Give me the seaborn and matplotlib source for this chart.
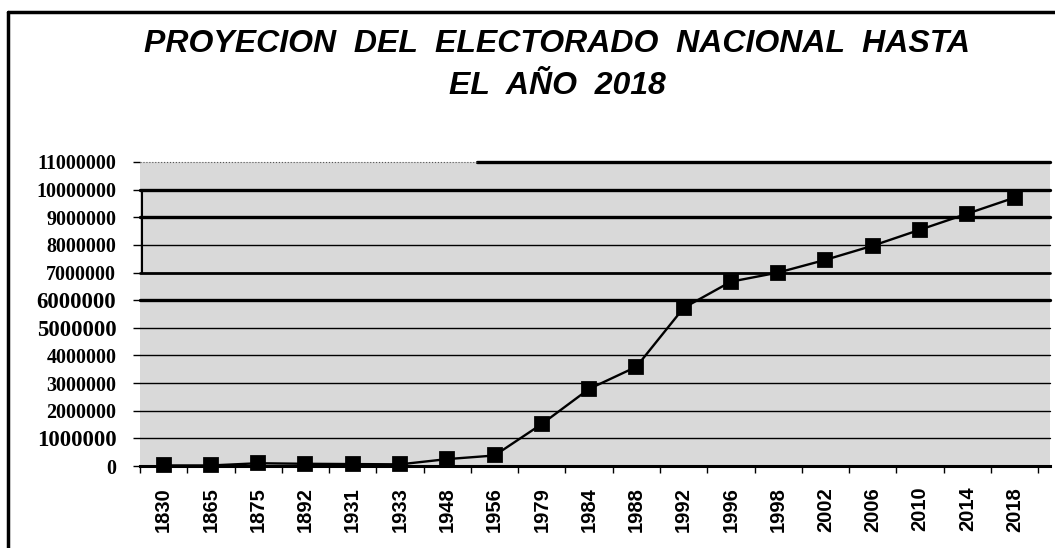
import numpy as np
import pandas as pd
import matplotlib
matplotlib.use("Agg")
import matplotlib.pyplot as plt
from matplotlib.lines import Line2D
import seaborn as sns

sns.set_theme(style="white", rc={"text.color": "black", "xtick.color": "black",
                                 "ytick.color": "black", "axes.labelcolor": "black"})

# valores
years = ["1830", "1865", "1875", "1892", "1931", "1933", "1948", "1956", "1979", "1984",
         "1988", "1992", "1996", "1998", "2002", "2006", "2010", "2014", "2018"]
electores = [20000, 20000, 100000, 80000, 70000, 60000, 250000, 380000, 1520000, 2790000,
             3590000, 5720000, 6670000, 7000000, 7460000, 7970000, 8550000, 9130000, 9710000]
ytick_vals = [0, 1000000, 2000000, 3000000, 4000000, 5000000, 6000000, 7000000,
              8000000, 9000000, 10000000, 11000000]
big_labels = [1000000, 5000000, 6000000]
title_txt = "PROYECION  DEL  ELECTORADO  NACIONAL  HASTA\nEL  AÑO  2018"

df = pd.DataFrame({"anio": years, "electores": electores})

fig = plt.figure(figsize=(10.55, 5.48), dpi=100)
fig.patch.set_facecolor("white")
ax = fig.add_axes([140 / 1055, 1 - 466 / 548, 910 / 1055, 304 / 548])
ax.set_facecolor("#d9d9d9")

# lineas horizontales (grid)
for v in ytick_vals[1:-1]:
    lw = 2.4 if v in (6000000, 9000000, 10000000) else (2.0 if v == 7000000 else 1.0)
    ax.axhline(v, color="black", lw=lw, zorder=1)
ax.axhline(11000000, xmin=0.37, xmax=1, color="black", lw=2.4, zorder=1)
ax.axhline(11000000, xmin=0, xmax=0.37, color="#555555", lw=0.8, ls=":", zorder=1)
ax.axvline(-0.45, ymin=7 / 11, ymax=10 / 11, color="black", lw=1.5, zorder=1)

sns.pointplot(data=df, x="anio", y="electores", order=years, color="black",
              markers="s", markersize=10.5, linewidth=1.7, ax=ax, zorder=3)
for c in ax.collections + ax.lines:
    c.set_clip_on(False)

ax.set_ylim(0, 11000000)
ax.set_xlim(-0.5, 18.75)
ax.set_xlabel("")
ax.set_ylabel("")

# eje y: marcas y etiquetas
ax.set_yticks(ytick_vals)
ax.set_yticklabels([])
ax.tick_params(axis="y", length=5, width=1, color="black", left=True)
for v in ytick_vals:
    ax.text(-0.026, v, str(v), transform=ax.get_yaxis_transform(), ha="right",
            va="center_baseline", fontfamily="Liberation Serif", fontweight="bold",
            fontsize=16.5 if v in big_labels else 14.4, color="black")

# eje x
ax.set_xticks(np.arange(len(years) + 1) - 0.5)
ax.set_xticklabels([])
ax.set_xticks(np.arange(len(years)), minor=True)
ax.set_xticklabels(years, minor=True, rotation=90, fontfamily="Liberation Sans",
                   fontweight="bold", fontsize=14.5, color="black")
ax.tick_params(axis="x", which="major", length=5, width=1, color="black", bottom=True)
ax.tick_params(axis="x", which="minor", length=0, pad=15)

for s in ["top", "right", "left"]:
    ax.spines[s].set_visible(False)
ax.spines["bottom"].set_color("black")
ax.spines["bottom"].set_linewidth(2.2)

# titulo
fig.text(557 / 1055, 1 - 65 / 548, title_txt, ha="center", va="center",
         fontsize=23, fontweight="bold", fontstyle="italic", color="black",
         fontfamily="Liberation Sans", linespacing=1.55)

# marco del documento
fig.add_artist(Line2D([8 / 1055, 1], [1 - 12 / 548, 1 - 12 / 548], color="black", lw=2.5))
fig.add_artist(Line2D([8 / 1055, 8 / 1055], [0, 1 - 12 / 548], color="black", lw=2.5))

fig.savefig("out.png", dpi=100, facecolor="white")
